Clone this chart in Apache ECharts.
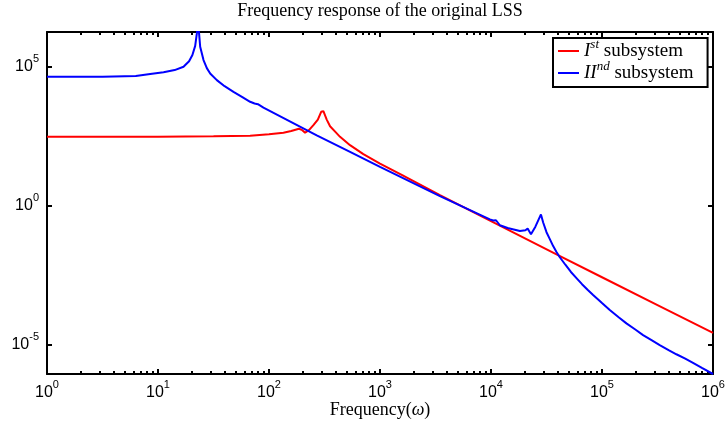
<!DOCTYPE html>
<html><head><meta charset="utf-8">
<script src="https://cdn.jsdelivr.net/npm/echarts@6/dist/echarts.min.js"></script>
<style>html,body{margin:0;padding:0;background:#fff}#c{width:727px;height:421px}</style>
</head><body><div id="c"></div>
<script>
// Series names
const seriesNames = ['I^st subsystem', 'II^nd subsystem'];
const titleText = 'Frequency response of the original LSS';

// Red curve: log10(frequency) and log10(magnitude)
const redLogW = [0, 0.5, 1.0, 1.5, 1.83, 2.0, 2.13, 2.2, 2.27, 2.30, 2.325, 2.36, 2.40, 2.44, 2.47, 2.49, 2.52, 2.55, 2.60, 2.64, 2.73, 2.85, 3.0, 3.2, 3.54, 4.0, 4.59, 5.0, 5.5, 6.0];
const redLogMag = [2.48, 2.48, 2.485, 2.5, 2.52, 2.57, 2.63, 2.69, 2.77, 2.72, 2.63, 2.72, 2.90, 3.1, 3.38, 3.40, 3.1, 2.86, 2.65, 2.48, 2.18, 1.86, 1.52, 1.1, 0.38, -0.55, -1.75, -2.57, -3.57, -4.57];

// Blue curve: log10(frequency) and log10(magnitude)
const blueLogW = [0, 0.5, 0.8, 0.93, 1.05, 1.15, 1.23, 1.28, 1.31, 1.335, 1.35, 1.36, 1.37, 1.38, 1.41, 1.44, 1.47, 1.53, 1.6, 1.68, 1.76, 1.83, 1.87, 1.9, 1.95, 2.43, 2.73, 3.0, 3.54, 3.99, 4.02, 4.045, 4.08, 4.15, 4.26, 4.31, 4.33, 4.36, 4.40, 4.45, 4.47, 4.50, 4.53, 4.56, 4.59, 4.62, 4.67, 4.72, 4.77, 4.82, 4.87, 4.92, 5.0, 5.07, 5.15, 5.22, 5.3, 5.37, 5.45, 5.52, 5.6, 5.67, 5.75, 5.82, 5.9, 6.0];
const blueLogMag = [4.64, 4.645, 4.67, 4.74, 4.80, 4.88, 5.0, 5.2, 5.42, 5.75, 6.2, 6.6, 6.2, 5.72, 5.24, 4.95, 4.76, 4.52, 4.3, 4.10, 3.91, 3.74, 3.68, 3.655, 3.53, 2.53, 1.94, 1.40, 0.35, -0.49, -0.53, -0.52, -0.70, -0.80, -0.91, -0.88, -0.82, -1.02, -0.75, -0.31, -0.6, -0.95, -1.2, -1.45, -1.66, -1.85, -2.12, -2.38, -2.6, -2.82, -3.02, -3.21, -3.5, -3.75, -4.01, -4.23, -4.45, -4.65, -4.84, -5.01, -5.19, -5.34, -5.5, -5.65, -5.83, -6.05];

// Tick values
const xMajorTicks = [1, 10, 100, 1000, 10000, 100000, 1000000];
const xMinorMultipliers = [2, 3, 4, 5, 6, 7, 8, 9];
const yTickValues = [1e-5, 1, 1e5];

const xMinorTicks = [];
for (let d = 0; d < 6; d++) xMinorMultipliers.forEach(k => xMinorTicks.push(k * Math.pow(10, d)));

const toPairs = (lw, lm) => lw.map((w, i) => [Math.pow(10, w), Math.pow(10, lm[i])]);

const X_MIN = 1, X_MAX = 1e6;
const Y_MIN = Math.pow(10, -6.05), Y_MAX = Math.pow(10, 6.25);

const labelRich = {
  b: {fontFamily: 'Liberation Sans', fontSize: 16, lineHeight: 16, color: '#000'},
  s: {fontFamily: 'Liberation Sans', fontSize: 11, lineHeight: 11, padding: [0, 0, 16, 0], color: '#000'}
};
function powLabel(v) {
  const e = Math.round(Math.log10(v));
  return '{b|10}{s|' + e + '}';
}
const serif = 'Liberation Serif';
const lineStyle = {color: '#000', width: 2};
const gridRect = {left: 47, right: 14, top: 32, bottom: 47, containLabel: false, outerBoundsMode: 'none'};

const chart = echarts.init(document.getElementById('c'), null, {renderer: 'canvas'});
chart.setOption({
  animation: false,
  backgroundColor: '#fff',
  grid: [Object.assign({}, gridRect), Object.assign({}, gridRect)],
  legend: {
    left: 553, top: 38, orient: 'vertical',
    padding: [0, 14, 1, 5], itemGap: -4,
    itemWidth: 21, itemHeight: 2, icon: 'rect',
    borderColor: '#000', borderWidth: 2, backgroundColor: '#fff',
    data: seriesNames,
    formatter: function (name) {
      if (name === seriesNames[0]) return '{i|I}{s|st}{n| subsystem}';
      return '{i|II}{s|nd}{n| subsystem}';
    },
    textStyle: {
      rich: {
        i: {fontFamily: serif, fontStyle: 'italic', fontSize: 19, lineHeight: 19, color: '#000'},
        s: {fontFamily: serif, fontStyle: 'italic', fontSize: 13, lineHeight: 13, padding: [0, 0, 13, 0], color: '#000'},
        n: {fontFamily: serif, fontSize: 19, lineHeight: 19, color: '#000'}
      }
    }
  },
  xAxis: [
    {
      gridIndex: 0, type: 'log', logBase: 10, min: X_MIN, max: X_MAX, position: 'bottom',
      axisLine: {show: true, lineStyle: lineStyle},
      axisTick: {show: true, inside: true, length: 5, customValues: xMajorTicks, lineStyle: {color: '#000', width: 2}},
      axisLabel: {show: true, margin: 11, customValues: xMajorTicks, formatter: powLabel, rich: labelRich},
      splitLine: {show: false}, minorTick: {show: false},
      name: '{n|Frequency(}{w|ω}{n|)}', nameLocation: 'middle', nameGap: 27, nameMoveOverlap: false,
      nameTextStyle: {fontFamily: serif, fontSize: 18, color: '#000',
        rich: {
          n: {fontFamily: serif, fontSize: 18, color: '#000'},
          w: {fontFamily: serif, fontStyle: 'italic', fontSize: 18, color: '#000'}
        }}
    },
    {
      gridIndex: 0, type: 'log', logBase: 10, min: X_MIN, max: X_MAX, position: 'top',
      axisLine: {show: true, lineStyle: lineStyle},
      axisTick: {show: true, inside: true, length: 5, customValues: xMajorTicks, lineStyle: {color: '#000', width: 2}},
      axisLabel: {show: false}, splitLine: {show: false},
      name: titleText, nameLocation: 'middle', nameGap: 12, nameMoveOverlap: false,
      nameTextStyle: {fontFamily: serif, fontSize: 18, color: '#000'}
    },
    {
      gridIndex: 1, type: 'log', logBase: 10, min: X_MIN, max: X_MAX, position: 'bottom',
      axisLine: {show: false},
      axisTick: {show: true, inside: true, length: 3, customValues: xMinorTicks, lineStyle: {color: '#000', width: 2}},
      axisLabel: {show: false}, splitLine: {show: false}
    },
    {
      gridIndex: 1, type: 'log', logBase: 10, min: X_MIN, max: X_MAX, position: 'top',
      axisLine: {show: false},
      axisTick: {show: true, inside: true, length: 3, customValues: xMinorTicks, lineStyle: {color: '#000', width: 2}},
      axisLabel: {show: false}, splitLine: {show: false}
    }
  ],
  yAxis: [
    {
      gridIndex: 0, type: 'log', logBase: 10, min: Y_MIN, max: Y_MAX, position: 'left',
      axisLine: {show: true, lineStyle: lineStyle},
      axisTick: {show: true, inside: true, length: 5, customValues: yTickValues, lineStyle: {color: '#000', width: 2}},
      axisLabel: {show: true, margin: 8, customValues: yTickValues, formatter: powLabel, rich: labelRich},
      splitLine: {show: false}
    },
    {
      gridIndex: 0, type: 'log', logBase: 10, min: Y_MIN, max: Y_MAX, position: 'right',
      axisLine: {show: true, lineStyle: lineStyle},
      axisTick: {show: true, inside: true, length: 5, customValues: yTickValues, lineStyle: {color: '#000', width: 2}},
      axisLabel: {show: false}, splitLine: {show: false}
    },
    {
      gridIndex: 1, type: 'log', logBase: 10, min: Y_MIN, max: Y_MAX, show: false
    }
  ],
  series: [
    {
      name: seriesNames[0], type: 'line', xAxisIndex: 0, yAxisIndex: 0,
      data: toPairs(redLogW, redLogMag), showSymbol: false, symbol: 'none',
      color: '#ff0000', lineStyle: {color: '#ff0000', width: 2}, clip: true, z: 3
    },
    {
      name: seriesNames[1], type: 'line', xAxisIndex: 0, yAxisIndex: 0,
      data: toPairs(blueLogW, blueLogMag), showSymbol: false, symbol: 'none',
      color: '#0000ff', lineStyle: {color: '#0000ff', width: 2}, clip: true, z: 4
    }
  ]
});
</script>
</body></html>
